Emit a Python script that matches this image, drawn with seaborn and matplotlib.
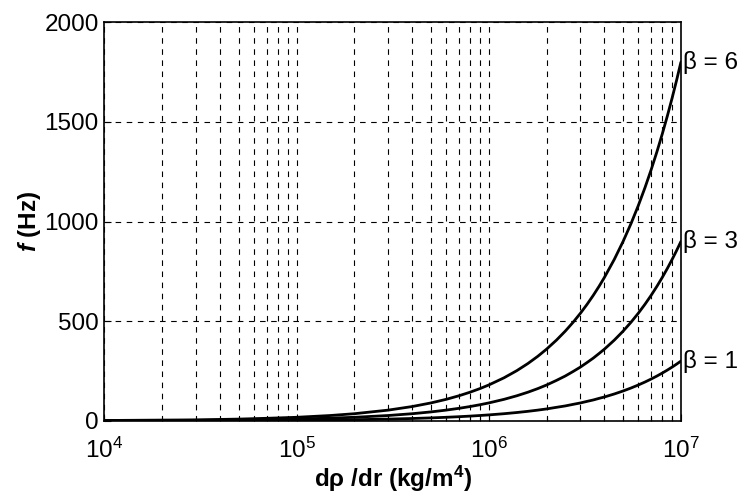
import numpy as np
import pandas as pd
import matplotlib
matplotlib.use('Agg')
import matplotlib.pyplot as plt
import seaborn as sns

# values
drho = [1e4, 2e4, 3e4, 5e4, 7e4,
        1e5, 1.5e5, 2e5, 3e5, 4e5, 5e5, 6e5, 7e5, 8e5, 9e5,
        1e6, 1.2e6, 1.4e6, 1.6e6, 1.8e6, 2e6, 2.25e6, 2.5e6, 2.75e6, 3e6,
        3.25e6, 3.5e6, 3.75e6, 4e6, 4.5e6, 5e6, 5.5e6, 6e6, 6.5e6, 7e6,
        7.5e6, 8e6, 8.5e6, 9e6, 9.5e6, 1e7]
f_b6 = [2, 4, 5, 9, 13,
        18, 27, 36, 54, 72, 90, 108, 126, 144, 162,
        180, 216, 252, 288, 324, 360, 405, 450, 495, 540,
        585, 630, 675, 720, 810, 900, 990, 1080, 1170, 1260,
        1350, 1440, 1530, 1620, 1710, 1800]
f_b3 = [1, 2, 3, 5, 6,
        9, 14, 18, 27, 36, 45, 54, 63, 72, 81,
        90, 108, 126, 144, 162, 180, 203, 225, 248, 270,
        293, 315, 338, 360, 405, 450, 495, 540, 585, 630,
        675, 720, 765, 810, 855, 900]
f_b1 = [0, 1, 1, 2, 2,
        3, 5, 6, 9, 12, 15, 18, 21, 24, 27,
        30, 36, 42, 48, 54, 60, 68, 75, 83, 90,
        98, 105, 113, 120, 135, 150, 165, 180, 195, 210,
        225, 240, 255, 270, 285, 300]
betas = ['β = 6', 'β = 3', 'β = 1']

n = len(drho)
df = pd.DataFrame({'x': drho * 3,
                   'f': f_b6 + f_b3 + f_b1,
                   'beta': [betas[0]] * n + [betas[1]] * n + [betas[2]] * n})

sns.set_style('ticks')
plt.rcParams['font.family'] = ['Liberation Sans', 'DejaVu Sans']
plt.rcParams['mathtext.fontset'] = 'custom'
plt.rcParams['mathtext.rm'] = 'Liberation Sans'
plt.rcParams['mathtext.it'] = 'Liberation Sans:italic:bold'
plt.rcParams['mathtext.bf'] = 'Liberation Sans:bold'
for k in ['text.color', 'axes.labelcolor', 'xtick.color', 'ytick.color', 'axes.edgecolor']:
    plt.rcParams[k] = 'black'

fig = plt.figure(figsize=(7.45, 4.94), dpi=100)
ax = fig.add_axes([0.14, 0.148, 0.774, 0.807])

sns.lineplot(data=df, x='x', y='f', hue='beta', palette=['black'] * 3,
             linewidth=2, legend=False, ax=ax)

ax.set_xscale('log')
ax.set_xlim(1e4, 1e7)
ax.set_ylim(0, 2000)
ax.set_yticks([0, 500, 1000, 1500, 2000])

ax.grid(True, which='major', axis='both', linestyle=(0, (5, 5)), color='black', linewidth=0.8)
ax.grid(True, which='minor', axis='x', linestyle=(0, (5, 5)), color='black', linewidth=0.8)
ax.set_axisbelow(True)

ax.tick_params(which='both', direction='in', labelsize=17.5, length=5, width=0.8, pad=4)
ax.tick_params(axis='x', which='both', pad=12)
ax.tick_params(which='minor', length=3)
for s in ax.spines.values():
    s.set_linewidth(1.2)

for name, vals in zip(betas, [f_b6, f_b3, f_b1]):
    ax.text(drho[-1] * 1.03, vals[-1], name, fontsize=17.5, ha='left', va='center',
            clip_on=False)

ax.set_xlabel('dρ /dr (kg/m$\\mathbf{^{4}}$)', fontsize=17.5, fontweight='bold', labelpad=1)
ax.set_ylabel('$f$ (Hz)', fontsize=17.5, fontweight='bold', labelpad=1)

fig.savefig('out.png', dpi=100)
